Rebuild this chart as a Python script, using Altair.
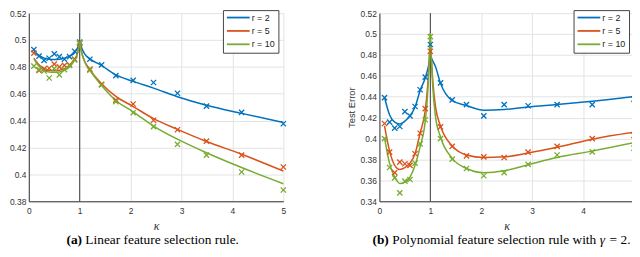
import altair as alt
import pandas as pd

series = ["r = 2", "r = 5", "r = 10"]
colors = ["#0072BD", "#D95319", "#77AC30"]

# ---------------- Panel (a): linear feature selection rule ----------------
a_mk_k = [0.1, 0.2, 0.3, 0.4, 0.5, 0.6, 0.7, 0.8, 0.9, 1.0,
          1.2, 1.43, 1.71, 2.05, 2.45, 2.92, 3.49, 4.18, 5.0]
a_mk_r2 = [0.4928, 0.4880, 0.4848, 0.4864, 0.4897, 0.4876, 0.4857, 0.4876, 0.4916, 0.4984,
           0.4857, 0.4815, 0.4735, 0.4700, 0.4684, 0.4604, 0.4508, 0.4461, 0.4377]
a_mk_r5 = [0.4902, 0.4773, 0.4785, 0.4790, 0.4820, 0.4800, 0.4811, 0.4815, 0.4858, 0.4975,
           0.4783, 0.4670, 0.4553, 0.4524, 0.4403, 0.4332, 0.4248, 0.4144, 0.4055]
a_mk_r10 = [0.4806, 0.4780, 0.4769, 0.4717, 0.4787, 0.4740, 0.4780, 0.4810, 0.4851, 0.4980,
            0.4776, 0.4665, 0.4541, 0.4459, 0.4356, 0.4224, 0.4144, 0.4018, 0.3884]

a_cl_k = [0.1, 0.2, 0.3, 0.4, 0.5, 0.6, 0.7, 0.8, 0.9, 0.95, 1.0]
a_cl_r2 = [0.4915, 0.4885, 0.4865, 0.4857, 0.4855, 0.4857, 0.4865, 0.4880, 0.4905, 0.4935, 0.4985]
a_cl_r5 = [0.4865, 0.4815, 0.4787, 0.4775, 0.4772, 0.4775, 0.4787, 0.4810, 0.4855, 0.4895, 0.4975]
a_cl_r10 = [0.4860, 0.4805, 0.4775, 0.4762, 0.4760, 0.4762, 0.4775, 0.4800, 0.4850, 0.4890, 0.4985]

a_cr_k = [1.0, 1.05, 1.1, 1.2, 1.43, 1.71, 2.05, 2.45, 2.92, 3.49, 4.18, 5.0]
a_cr_r2 = [0.4985, 0.4930, 0.4895, 0.4860, 0.4810, 0.4740, 0.4692, 0.4642, 0.4578, 0.4514, 0.4454, 0.4386]
a_cr_r5 = [0.4975, 0.4890, 0.4840, 0.4780, 0.4675, 0.4580, 0.4505, 0.4415, 0.4335, 0.4245, 0.4150, 0.4025]
a_cr_r10 = [0.4985, 0.4890, 0.4835, 0.4775, 0.4662, 0.4550, 0.4466, 0.4360, 0.4262, 0.4161, 0.4051, 0.3931]

a_yticks = [0.38, 0.40, 0.42, 0.44, 0.46, 0.48, 0.50, 0.52]

# ---------------- Panel (b): polynomial feature selection rule ----------------
b_mk_k = [0.1, 0.2, 0.3, 0.4, 0.5, 0.6, 0.7, 0.8, 0.9, 1.0,
          1.2, 1.43, 1.71, 2.05, 2.45, 2.92, 3.49, 4.18, 5.0]
b_mk_r2 = [0.4392, 0.4157, 0.4100, 0.4115, 0.4257, 0.4217, 0.4307, 0.4467, 0.4588, 0.4900,
           0.4533, 0.4370, 0.4325, 0.4217, 0.4325, 0.4314, 0.4325, 0.4325, 0.4377]
b_mk_r5 = [0.4144, 0.3870, 0.3674, 0.3774, 0.3759, 0.3744, 0.3855, 0.4051, 0.4287, 0.4835,
           0.4112, 0.3925, 0.3834, 0.3825, 0.3819, 0.3870, 0.3925, 0.4000, 0.4030]
b_mk_r10 = [0.4000, 0.3723, 0.3624, 0.3481, 0.3593, 0.3608, 0.3765, 0.3949, 0.4180, 0.4975,
            0.4000, 0.3804, 0.3714, 0.3644, 0.3674, 0.3753, 0.3843, 0.3873, 0.3909]

b_cl_k = [0.1, 0.2, 0.3, 0.4, 0.5, 0.6, 0.7, 0.8, 0.9, 0.95, 1.0]
b_cl_r2 = [0.4395, 0.4226, 0.4157, 0.4140, 0.4166, 0.4217, 0.4302, 0.4460, 0.4580, 0.4665, 0.4790]
b_cl_r5 = [0.4121, 0.3880, 0.3744, 0.3705, 0.3723, 0.3765, 0.3855, 0.4053, 0.4271, 0.4520, 0.4950]
b_cl_r10 = [0.4006, 0.3760, 0.3632, 0.3570, 0.3584, 0.3632, 0.3744, 0.3925, 0.4166, 0.4450, 0.5010]

b_cr_k = [1.0, 1.05, 1.1, 1.2, 1.43, 1.71, 2.05, 2.45, 2.92, 3.49, 4.18, 5.0]
b_cr_r2 = [0.4790, 0.4740, 0.4690, 0.4528, 0.4362, 0.4316, 0.4271, 0.4277, 0.4302, 0.4325, 0.4356, 0.4401]
b_cr_r5 = [0.4950, 0.4540, 0.4310, 0.4120, 0.3928, 0.3843, 0.3819, 0.3825, 0.3861, 0.3916, 0.3994, 0.4060]
b_cr_r10 = [0.5010, 0.4480, 0.4215, 0.4015, 0.3810, 0.3714, 0.3674, 0.3692, 0.3750, 0.3819, 0.3880, 0.3961]

b_yticks = [0.34, 0.36, 0.38, 0.40, 0.42, 0.44, 0.46, 0.48, 0.50, 0.52]

xticks = [0, 1, 2, 3, 4, 5]
vline_k = [1.0]

# caption pieces: (text, x offset from caption start, weight, style)
a_caption = [("(a)", 0, "bold", "normal"),
             ("Linear feature selection rule.", 19.1, "normal", "normal")]
b_caption = [("(b)", 0, "bold", "normal"),
             ("Polynomial feature selection rule with", 19.9, "normal", "normal"),
             ("γ", 229.5, "normal", "italic"),
             ("= 2.", 239.4, "normal", "normal")]


def marker_df(k, r2, r5, r10):
    rows = []
    for name, vals in zip(series, [r2, r5, r10]):
        for kk, v in zip(k, vals):
            rows.append({"k": kk, "err": v, "series": name})
    return pd.DataFrame(rows)


def curve_df(kl, l2, l5, l10, kr, r2, r5, r10):
    rows = []
    for name, lv, rv in zip(series, [l2, l5, l10], [r2, r5, r10]):
        for kk, v in zip(kl, lv):
            rows.append({"k": kk, "err": v, "series": name, "side": "L"})
        for kk, v in zip(kr, rv):
            rows.append({"k": kk, "err": v, "series": name, "side": "R"})
    return pd.DataFrame(rows)


AX = "#333333"
GRID = "#e3e3e3"
PLOT_W = 257
PLOT_H = 190
CAP_Y = 233


def panel(mk, cv, ydom, yticks, caption, cap_x):
    X = alt.X(
        "k:Q",
        scale=alt.Scale(domain=[0, 5], nice=False, zero=False),
        axis=alt.Axis(
            values=xticks, format="d", title="κ",
            titleFont="Liberation Serif", titleFontStyle="italic",
            titleFontWeight="normal", titleFontSize=12, titleColor=AX,
            labelFont="Liberation Sans", labelFontSize=8.5, labelColor=AX,
            labelFlush=False,
            grid=True, gridColor=GRID, domainColor=AX, ticks=False,
            labelPadding=5, titlePadding=6,
        ),
    )
    Y = alt.Y(
        "err:Q",
        scale=alt.Scale(domain=ydom, nice=False, zero=False),
        axis=alt.Axis(
            values=yticks, format=".2~f", title="Test Error",
            titleFont="Liberation Sans", titleFontWeight="normal",
            titleFontSize=9.5, titleColor=AX,
            titleX=-28, titleBaseline="middle",
            labelFont="Liberation Sans", labelFontSize=8.5, labelColor=AX,
            labelFlush=False,
            grid=True, gridColor=GRID, domainColor=AX, ticks=False,
            labelPadding=3,
        ),
    )
    color_scale = alt.Scale(domain=series, range=colors)

    rule = alt.Chart(pd.DataFrame({"k": vline_k})).mark_rule(
        color="#3a3a3a", strokeWidth=1
    ).encode(x=X)

    lines = alt.Chart(cv).mark_line(strokeWidth=1.5, interpolate="monotone").encode(
        x=X, y=Y,
        color=alt.Color(
            "series:N", scale=color_scale, sort=series,
            legend=alt.Legend(
                title=None, orient="none", legendX=196, legendY=-3,
                symbolType="M-1,0L5.57,0", symbolSize=49, symbolStrokeWidth=1.8,
                labelFont="Liberation Sans", labelFontSize=9, labelColor="#222222",
                padding=3, rowPadding=3.5, labelOffset=17,
                strokeColor="#444444", fillColor="white", direction="vertical",
            ),
        ),
        detail="side:N",
        order="k:Q",
    )

    pts = alt.Chart(mk).mark_point(
        shape="M-1,-1L1,1M-1,1L1,-1", filled=False, size=28, strokeWidth=1.3, opacity=1
    ).encode(
        x=X, y=Y,
        color=alt.Color("series:N", scale=color_scale, sort=series, legend=None),
    )

    caps = []
    for txt, dx, weight, style in caption:
        caps.append(
            alt.Chart(pd.DataFrame({"t": [txt]})).mark_text(
                align="left", baseline="alphabetic", font="Liberation Serif",
                fontSize=13.5, fontWeight=weight, fontStyle=style, color="black",
            ).encode(x=alt.value(cap_x + dx), y=alt.value(CAP_Y), text="t:N")
        )

    return alt.layer(rule, lines, pts, *caps).properties(width=PLOT_W, height=PLOT_H)


left = panel(
    marker_df(a_mk_k, a_mk_r2, a_mk_r5, a_mk_r10),
    curve_df(a_cl_k, a_cl_r2, a_cl_r5, a_cl_r10, a_cr_k, a_cr_r2, a_cr_r5, a_cr_r10),
    [0.38, 0.52], a_yticks, a_caption, 38,
)
right = panel(
    marker_df(b_mk_k, b_mk_r2, b_mk_r5, b_mk_r10),
    curve_df(b_cl_k, b_cl_r2, b_cl_r5, b_cl_r10, b_cr_k, b_cr_r2, b_cr_r5, b_cr_r10),
    [0.34, 0.52], b_yticks, b_caption, -7,
)

chart = alt.hconcat(left, right, spacing=97, bounds="flush").resolve_scale(
    x="independent", y="independent", color="independent"
).resolve_legend(color="independent").properties(
    padding={"left": -12, "top": 0, "right": -8, "bottom": -1},
    background="white",
).configure_view(strokeWidth=0)

chart.save("out.html", embed_options={"renderer": "svg", "actions": False})
